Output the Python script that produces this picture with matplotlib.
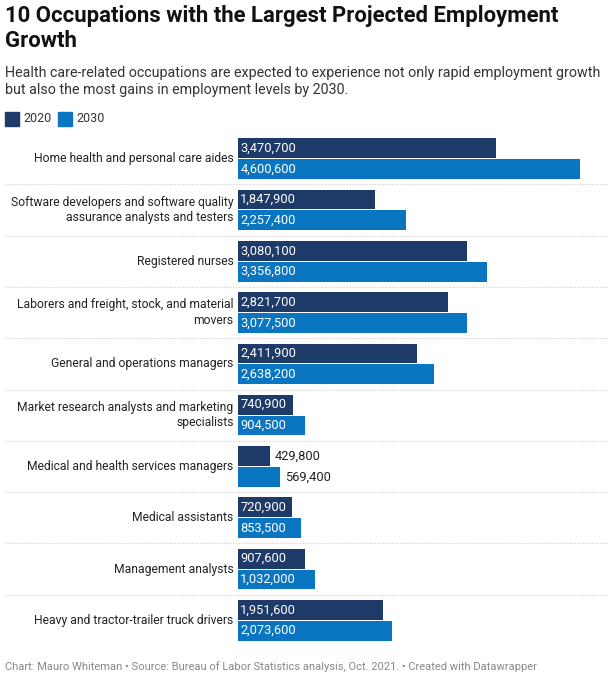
import matplotlib
matplotlib.use('Agg')
import matplotlib.pyplot as plt
import matplotlib.patches as patches
import matplotlib.transforms as mtrans

plt.rcParams['font.family'] = ['Roboto', 'DejaVu Sans']

occupations = [
    'Home health and personal care aides',
    'Software developers and software quality\nassurance analysts and testers',
    'Registered nurses',
    'Laborers and freight, stock, and material\nmovers',
    'General and operations managers',
    'Market research analysts and marketing\nspecialists',
    'Medical and health services managers',
    'Medical assistants',
    'Management analysts',
    'Heavy and tractor-trailer truck drivers',
]
emp_2020 = [3470700, 1847900, 3080100, 2821700, 2411900, 740900, 429800, 720900, 907600, 1951600]
emp_2030 = [4600600, 2257400, 3356800, 3077500, 2638200, 904500, 569400, 853500, 1032000, 2073600]
series_names = ['2020', '2030']

c2020 = '#1d3a68'
c2030 = '#0a76c2'

W, H = 615, 680
fig = plt.figure(figsize=(W / 100, H / 100), dpi=100)
ax = fig.add_axes([238 / W, 1 - 646 / H, (608 - 238) / W, (646 - 133) / H])

bh = 0.385
ys = list(range(len(occupations)))
ax.barh([y - bh / 2 - 0.01 for y in ys], emp_2020, height=bh, color=c2020)
ax.barh([y + bh / 2 + 0.01 for y in ys], emp_2030, height=bh, color=c2030)
ax.set_xlim(0, 4.98e6)
ax.set_ylim(len(occupations) - 0.5, -0.5)
ax.axis('off')

for y, v1, v2 in zip(ys, emp_2020, emp_2030):
    for v, yy in ((v1, y - bh / 2 - 0.01), (v2, y + bh / 2 + 0.01)):
        s = f'{v:,}'
        if v > 600000:
            ax.text(30000, yy, s, color='white', va='center', ha='left', fontsize=9.3)
        else:
            ax.text(v + 60000, yy, s, color='#222222', va='center', ha='left', fontsize=9.3)
    ax.text(-0.012, y, occupations[y], transform=mtrans.blended_transform_factory(ax.transAxes, ax.transData),
            ha='right', va='center', fontsize=8.7, color='#222222', linespacing=1.25)

# dotted separators spanning the full width
tr = mtrans.blended_transform_factory(fig.transFigure, ax.transData)
for y in ys[:-1]:
    ax.plot([5 / W, 608 / W], [y + 0.5, y + 0.5], transform=tr, color='#cccccc',
            linestyle=(0, (1, 1.5)), linewidth=0.8, clip_on=False)

fig.text(5 / W, 1 - 5 / H, '10 Occupations with the Largest Projected Employment\nGrowth',
         ha='left', va='top', fontsize=15.9, fontweight='bold', color='#111111', linespacing=1.15)
fig.text(5 / W, 1 - 66 / H, 'Health care-related occupations are expected to experience not only rapid employment growth\nbut also the most gains in employment levels by 2030.',
         ha='left', va='top', fontsize=10.3, color='#333333', linespacing=1.25)

# legend
for x0, col, name in ((5, c2020, series_names[0]), (58, c2030, series_names[1])):
    fig.patches.append(patches.Rectangle((x0 / W, 1 - 126 / H), 14 / W, 14 / H, color=col,
                                         transform=fig.transFigure))
    fig.text((x0 + 18) / W, 1 - 119 / H, name, ha='left', va='center', fontsize=9, color='#333333')

fig.text(5 / W, 1 - 667 / H,
         'Chart: Mauro Whiteman \u2022 Source: Bureau of Labor Statistics analysis, Oct. 2021. \u2022 Created with Datawrapper',
         ha='left', va='center', fontsize=8, color='#888888')

fig.savefig('out.png', dpi=100)
